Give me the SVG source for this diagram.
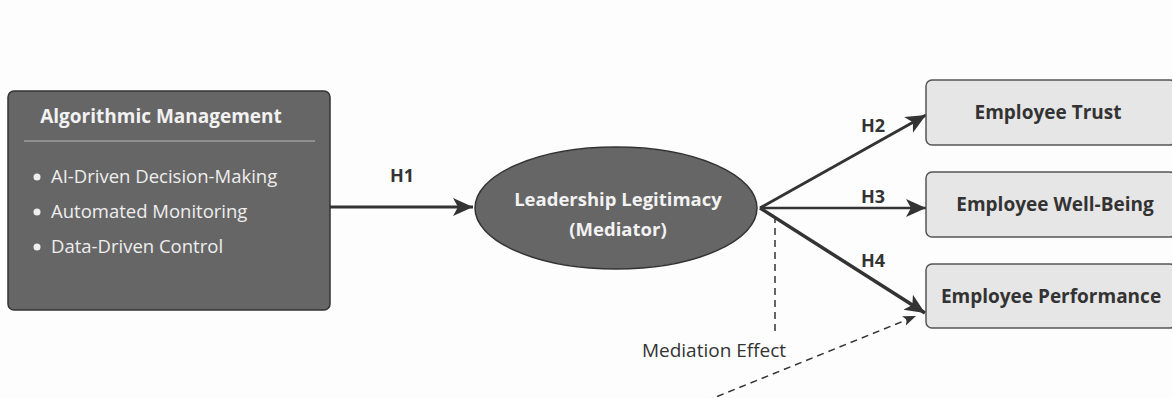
<svg xmlns="http://www.w3.org/2000/svg" width="1172" height="398" viewBox="0 0 1172 398">
  <style>
    .dark { fill: #666666; stroke: #333333; stroke-width: 1.5; }
    .light { fill: #e6e6e6; stroke: #555555; stroke-width: 1.5; }
    .title { font-family: "Open Sans", "Noto Sans", sans-serif; font-weight: bold; font-size: 19px; fill: #f2f2f2; }
    .item { font-family: "Open Sans", "Noto Sans", sans-serif; font-size: 18.5px; fill: #eeeeee; }
    .boxt { font-family: "Open Sans", "Noto Sans", sans-serif; font-weight: bold; font-size: 19px; fill: #333333; text-anchor: middle; }
    .lbl { font-family: "Open Sans", "Noto Sans", sans-serif; font-weight: bold; font-size: 18px; fill: #333333; text-anchor: middle; }
    .note { font-family: "Open Sans", "Noto Sans", sans-serif; font-size: 19px; fill: #333333; text-anchor: middle; }
    .edge { stroke: #333333; fill: none; }
    .dash { stroke: #333333; fill: none; stroke-width: 1.5; stroke-dasharray: 7 5; }
  </style>
  <defs>
    <marker id="ah" markerUnits="userSpaceOnUse" markerWidth="22" markerHeight="20" refX="20" refY="10" orient="auto">
      <path d="M0,1 L20,10 L0,19 L5,10 Z" fill="#333333"/>
    </marker>
    <marker id="ahs" markerUnits="userSpaceOnUse" markerWidth="14" markerHeight="12" refX="13" refY="6" orient="auto">
      <path d="M0,1 L13,6 L0,11 L3,6 Z" fill="#333333"/>
    </marker>
  </defs>
  <rect width="1172" height="398" fill="#fdfdfd"/>

  <g id="connectors">
    <line id="h1" class="edge" x1="330" y1="207" x2="473" y2="207" stroke-width="3" marker-end="url(#ah)"/>
    <line id="h2" class="edge" x1="760" y1="208" x2="926" y2="115" stroke-width="3" marker-end="url(#ah)"/>
    <line id="h3" class="edge" x1="760" y1="208" x2="926" y2="208" stroke-width="2.5" marker-end="url(#ah)"/>
    <line id="h4" class="edge" x1="760" y1="208" x2="925" y2="313" stroke-width="3.5" marker-end="url(#ah)"/>
    <line id="med-v" class="dash" x1="775" y1="216" x2="775" y2="332"/>
    <line id="med-d" class="dash" x1="706" y1="401" x2="916" y2="316" marker-end="url(#ahs)"/>
    <text class="lbl" x="402" y="182">H1</text>
    <text class="lbl" x="873" y="132">H2</text>
    <text class="lbl" x="873" y="203">H3</text>
    <text class="lbl" x="873" y="267">H4</text>
    <text class="note" x="714" y="357">Mediation Effect</text>
  </g>

  <g id="algorithmic-management">
    <rect class="dark" x="8" y="91" width="322" height="219" rx="6"/>
    <text class="title" x="161" y="123" text-anchor="middle">Algorithmic Management</text>
    <line x1="24" y1="141" x2="315" y2="141" stroke="#b8b8b8" stroke-width="1"/>
    <circle cx="37" cy="177" r="3.5" fill="#eeeeee"/>
    <text class="item" x="51" y="183">AI-Driven Decision-Making</text>
    <circle cx="37" cy="212" r="3.5" fill="#eeeeee"/>
    <text class="item" x="51" y="218">Automated Monitoring</text>
    <circle cx="37" cy="247" r="3.5" fill="#eeeeee"/>
    <text class="item" x="51" y="253">Data-Driven Control</text>
  </g>

  <g id="leadership-legitimacy">
    <ellipse class="dark" cx="616" cy="208" rx="141" ry="61"/>
    <text class="title" x="618" y="206" text-anchor="middle" style="font-size:18.5px">Leadership Legitimacy</text>
    <text class="title" x="618" y="236" text-anchor="middle" style="font-size:18.5px">(Mediator)</text>
  </g>

  <g id="employee-trust">
    <rect class="light" x="926" y="80" width="250" height="65" rx="6"/>
    <text class="boxt" x="1048" y="119">Employee Trust</text>
  </g>
  <g id="employee-well-being">
    <rect class="light" x="926" y="172" width="250" height="65" rx="6"/>
    <text class="boxt" x="1055" y="211">Employee Well-Being</text>
  </g>
  <g id="employee-performance">
    <rect class="light" x="926" y="264" width="250" height="64" rx="6"/>
    <text class="boxt" x="1051" y="303">Employee Performance</text>
  </g>
</svg>
